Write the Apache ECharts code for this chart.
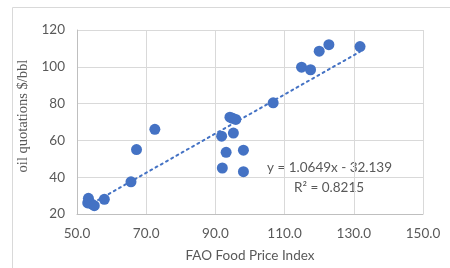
<!DOCTYPE html>
<html>
<head>
<meta charset="utf-8">
<script src="https://cdn.jsdelivr.net/npm/echarts@6/dist/echarts.min.js"></script>
<style>
  html, body { margin: 0; padding: 0; background: #fff; }
  #chart { width: 450px; height: 268px; }
</style>
</head>
<body>
<div id="chart"></div>
<script>
// FAO food price index vs oil quotations
const foodIndex = [53.1, 53.3, 54.2, 55.0, 57.9, 65.6, 67.2, 72.5, 91.8, 92.0, 93.1, 94.2, 95.0, 95.2, 95.9, 98.1, 98.1, 106.7, 114.9, 117.5, 120.0, 122.8, 131.8]
const oilPrice = [26.0, 28.5, 25.5, 24.5, 28.0, 37.5, 55.0, 66.0, 62.3, 45.0, 53.5, 72.6, 72.0, 64.0, 71.4, 54.7, 43.0, 80.4, 99.8, 98.4, 108.5, 112.0, 111.0]
// linear trend (ends of the dotted line)
const trendX = [53.1, 131.8]
const trendY = [24.4, 108.2]
const equationText = 'y = 1.0649x - 32.139'
const r2Text = 'R² = 0.8215'

const points = foodIndex.map((x, i) => [x, oilPrice[i]])
const trend = trendX.map((x, i) => [x, trendY[i]])

let chart = echarts.init(document.getElementById('chart'))
let option = {
  animation: false,
  textStyle: { fontFamily: 'Lato' },
  grid: { left: 77, right: 27, top: 30, bottom: 46 },
  graphic: [
    {
      type: 'rect',
      shape: { x: 12.5, y: 7.5, width: 460, height: 280 },
      style: { fill: 'none', stroke: '#d9d9d9', lineWidth: 1 },
      silent: true
    },
    {
      type: 'text',
      left: 267, top: 161,
      style: { text: equationText, fill: '#595959', font: '13.5px Lato' }
    },
    {
      type: 'text',
      left: 294, top: 181,
      style: { text: r2Text, fill: '#595959', font: '13.5px Lato' }
    }
  ],
  xAxis: {
    type: 'value',
    min: 50, max: 150, interval: 20,
    name: 'FAO Food Price Index',
    nameLocation: 'middle',
    nameGap: 35,
    nameTextStyle: { color: '#595959', fontSize: 13.5 },
    axisLine: { show: true, lineStyle: { color: '#bfbfbf' } },
    axisTick: { show: false },
    axisLabel: { color: '#595959', fontSize: 13.5, margin: 13, formatter: v => v.toFixed(1) },
    splitLine: { show: true, lineStyle: { color: '#d9d9d9' } }
  },
  yAxis: {
    type: 'value',
    min: 20, max: 120, interval: 20,
    name: 'oil quotations $/bbl',
    nameLocation: 'middle',
    nameGap: 44,
    nameTextStyle: { color: '#595959', fontSize: 14.5, fontFamily: 'Liberation Serif', padding: [0, 0, 0, 12] },
    axisLine: { show: true, lineStyle: { color: '#bfbfbf' } },
    axisTick: { show: false },
    axisLabel: { color: '#595959', fontSize: 13.5, margin: 12 },
    splitLine: { show: true, lineStyle: { color: '#d9d9d9' } }
  },
  series: [
    {
      name: 'trend',
      type: 'line',
      data: trend,
      showSymbol: false,
      lineStyle: { color: '#4472C4', width: 2, type: [2, 4], cap: 'round' },
      z: 1
    },
    {
      name: 'data',
      type: 'scatter',
      data: points,
      symbolSize: 11,
      itemStyle: { color: '#4472C4', opacity: 1 },
      z: 2
    }
  ]
}
chart.setOption(option)
</script>
</body>
</html>
